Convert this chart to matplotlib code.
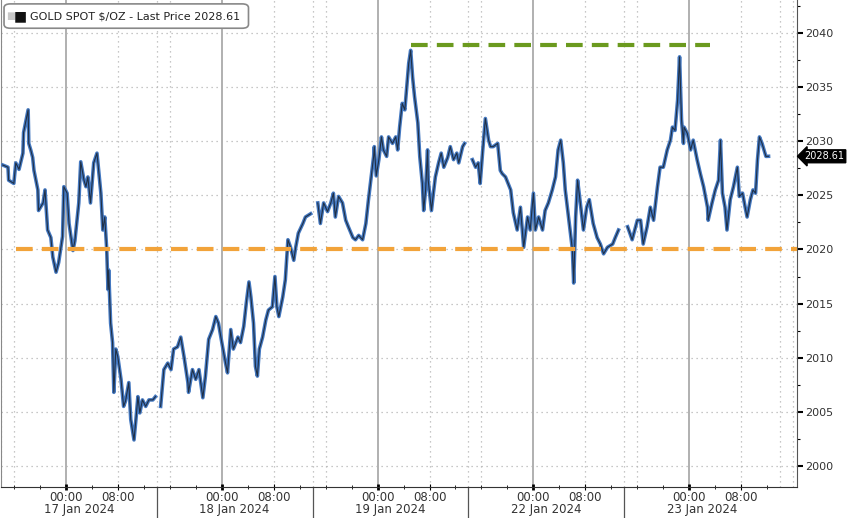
import numpy as np
import matplotlib
matplotlib.use('Agg')
import matplotlib.pyplot as plt
from matplotlib.patches import FancyBboxPatch
from matplotlib.transforms import blended_transform_factory

plt.rcParams['font.family'] = ['DejaVu Sans']

# hours from session start (session starts ~14:00 of previous day, 24h long)
s0_t = [0.3, 1.1, 1.2, 2.0, 2.3, 2.8, 3.4, 3.5, 4.2, 4.3, 4.6, 4.9, 5.1, 5.7, 5.8, 6.5,
        6.8, 7.2, 7.7, 8.0, 8.5, 8.9, 9.5, 9.7, 10.2, 10.5, 11.1, 11.4, 12.0, 12.3, 12.8,
        13.1, 13.4, 13.8, 14.3, 14.8, 15.1, 15.4, 15.7, 16.0, 16.3, 16.5, 16.6, 16.9, 17.2,
        17.4, 17.7, 18.0, 18.5, 18.9, 19.2, 19.7, 20.0, 20.5, 20.8, 21.1, 21.4, 21.8, 22.3,
        22.8, 23.4, 23.8]
s0_p = [2027.8, 2027.6, 2026.4, 2026.1, 2028.0, 2027.4, 2028.9, 2030.8, 2032.9, 2029.8,
        2029.2, 2028.5, 2027.3, 2025.5, 2023.6, 2024.3, 2025.5, 2021.8, 2021.1, 2019.3,
        2017.9, 2018.8, 2021.2, 2025.8, 2025.2, 2022.4, 2019.9, 2020.8, 2024.3, 2028.1,
        2026.4, 2025.8, 2026.7, 2024.3, 2028.0, 2028.9, 2027.1, 2025.2, 2021.8, 2023.0,
        2020.0, 2016.3, 2018.1, 2013.2, 2011.4, 2006.8, 2010.8, 2010.1, 2008.0, 2005.5,
        2006.0, 2007.7, 2004.3, 2002.4, 2004.3, 2006.4, 2004.9, 2006.1, 2005.5, 2006.1,
        2006.1, 2006.4]

s1_t = [0.6, 1.1, 1.7, 2.2, 2.6, 3.2, 3.7, 4.2, 4.8, 4.9, 5.5, 6.0, 6.5, 7.1, 7.5, 8.0,
        8.6, 9.1, 9.5, 10.2, 10.6, 10.9, 11.4, 11.8, 12.5, 12.9, 13.4, 13.8, 14.2, 14.5,
        14.9, 15.2, 15.5, 15.8, 16.3, 16.8, 17.2, 17.8, 18.2, 18.5, 18.8, 19.4, 19.8, 20.2,
        20.6, 21.1, 21.4, 21.8, 22.5, 22.9, 23.7]
s1_p = [2005.5, 2008.9, 2009.5, 2008.9, 2010.8, 2011.0, 2011.9, 2010.1, 2007.7, 2006.8,
        2008.9, 2008.0, 2008.9, 2006.3, 2008.3, 2011.7, 2012.6, 2013.8, 2013.2, 2010.8,
        2009.5, 2008.6, 2012.6, 2010.8, 2011.9, 2011.4, 2012.9, 2015.1, 2017.0, 2015.6,
        2013.2, 2009.2, 2008.3, 2010.8, 2011.9, 2013.5, 2014.4, 2014.7, 2017.5, 2014.7,
        2013.8, 2015.6, 2017.2, 2020.9, 2020.2, 2019.0, 2020.2, 2021.5, 2022.4, 2023.0,
        2023.3]

s2_t = [0.8, 1.2, 1.7, 2.3, 2.8, 3.2, 3.5, 4.0, 4.6, 5.1, 5.5, 6.2, 6.6, 7.1, 7.7, 8.2,
        8.6, 9.1, 9.4, 9.5, 9.8, 10.2, 10.6, 10.9, 11.4, 11.7, 12.3, 12.8, 13.1, 13.4, 13.8,
        14.2, 14.5, 14.8, 15.1, 15.4, 15.7, 16.2, 16.5, 16.9, 17.1, 17.4, 17.7, 17.8, 18.3,
        18.6, 18.9, 19.4, 19.8, 20.2, 20.8, 21.2, 21.7, 22.2, 22.5, 23.1, 23.4]
s2_p = [2024.3, 2022.4, 2024.3, 2023.5, 2024.3, 2025.2, 2023.0, 2024.9, 2024.3, 2022.7,
        2022.1, 2021.1, 2020.9, 2021.3, 2020.9, 2022.4, 2024.6, 2027.1, 2028.6, 2029.5,
        2026.8, 2028.3, 2030.4, 2029.2, 2028.6, 2030.4, 2029.8, 2030.4, 2029.2, 2031.3,
        2033.5, 2032.9, 2035.0, 2037.2, 2038.4, 2035.9, 2034.1, 2031.7, 2028.6, 2026.1,
        2023.6, 2025.5, 2029.2, 2026.4, 2023.6, 2025.2, 2026.7, 2028.0, 2028.9, 2027.6,
        2028.5, 2029.5, 2028.3, 2028.9, 2028.0, 2029.5, 2029.8]

s3_t = [0.6, 1.1, 1.5, 1.8, 2.2, 2.6, 3.1, 3.4, 3.8, 4.5, 4.9, 5.2, 5.7, 6.5, 6.9, 7.5,
        8.0, 8.5, 9.1, 9.5, 10.0, 10.3, 10.8, 11.4, 11.8, 12.3, 12.9, 13.4, 13.8, 14.2,
        14.6, 14.9, 15.4, 16.0, 16.2, 16.5, 16.8, 17.1, 17.7, 18.2, 18.6, 19.2, 19.8, 20.3,
        20.8, 21.4, 22.2, 22.6, 23.1]
s3_p = [2028.3, 2027.6, 2028.0, 2026.1, 2029.2, 2032.1, 2030.1, 2029.5, 2029.5, 2029.8,
        2027.3, 2027.0, 2026.7, 2025.5, 2023.4, 2021.8, 2023.9, 2020.2, 2023.0, 2021.8,
        2025.2, 2021.8, 2023.0, 2021.8, 2023.6, 2024.3, 2025.5, 2026.7, 2029.2, 2030.1,
        2028.0, 2025.5, 2023.0, 2020.0, 2016.9, 2023.0, 2026.4, 2024.9, 2021.8, 2023.9,
        2024.6, 2022.4, 2021.1, 2020.5, 2019.6, 2020.2, 2020.5, 2021.1, 2021.8]

s4_t = [0.5, 1.2, 2.0, 2.5, 2.9, 3.5, 4.0, 4.5, 5.1, 5.5, 6.0, 6.6, 7.1, 7.4, 7.8, 8.2,
        8.5, 8.8, 9.1, 9.2, 9.7, 10.2, 10.6, 11.2, 11.7, 12.2, 12.8, 12.9, 13.5, 14.0, 14.5,
        14.8, 15.1, 15.5, 15.8, 16.3, 16.8, 17.4, 17.7, 18.2, 18.6, 18.9, 19.4, 19.8, 20.2,
        20.5, 20.8, 21.2, 21.5, 21.8, 22.2]
s4_p = [2022.1, 2020.9, 2022.7, 2022.7, 2020.5, 2022.1, 2023.9, 2022.7, 2025.8, 2027.6,
        2027.6, 2029.2, 2030.1, 2031.3, 2031.0, 2033.8, 2037.8, 2032.0, 2029.8, 2031.3,
        2030.7, 2029.2, 2030.1, 2028.3, 2027.0, 2025.8, 2023.9, 2022.7, 2024.3, 2025.5,
        2026.4, 2030.1, 2025.2, 2023.9, 2021.8, 2024.6, 2025.8, 2027.6, 2024.9, 2025.2,
        2023.9, 2023.0, 2024.6, 2025.5, 2025.2, 2028.3, 2030.4, 2029.8, 2029.2, 2028.6,
        2028.61]

sessions = [(s0_t, s0_p), (s1_t, s1_p), (s2_t, s2_p), (s3_t, s3_p), (s4_t, s4_p)]
day_labels = ['17 Jan 2024', '18 Jan 2024', '19 Jan 2024', '22 Jan 2024', '23 Jan 2024']
last_price = 2028.61

# support / resistance levels (value, start hour, end hour)
support = (2020.0, 2.3, 122.6)
resistance = (2038.9, 63.1, 109.2)

SESSION = 24.0
MIDNIGHT = 10.0   # 00:00 sits 10h into each session

fig = plt.figure(figsize=(8.48, 5.18), dpi=100)
ax = fig.add_axes([0.001, 0.06, 0.939, 0.94])

# stitch sessions, NaN between so the line breaks
xs, ys = [], []
for i, (t, p) in enumerate(sessions):
    xs += [i * SESSION + h for h in t] + [np.nan]
    ys += list(p) + [np.nan]
xs = np.array(xs)
ys = np.array(ys)

# grid
for lvl in range(2000, 2045, 5):
    ax.axhline(lvl, color='#b5b5b5', lw=0.9, ls=(0, (1, 3)), zorder=0)
for i in range(6):
    base = i * SESSION
    ax.axvline(base, color='#b5b5b5', lw=0.9, ls=(0, (1, 3)), zorder=0)
    ax.axvline(base + 2, color='#b5b5b5', lw=0.9, ls=(0, (1, 3)), zorder=0)
    ax.axvline(base + 18, color='#b5b5b5', lw=0.9, ls=(0, (1, 3)), zorder=0)
    ax.axvline(base + MIDNIGHT, color='#b0b0b0', lw=1.4, zorder=0)

# price: blue body with a dark core
ax.plot(xs, ys, color='#4478c0', lw=2.6, zorder=3)
ax.plot(xs, ys, color='#101010', lw=0.8, alpha=0.7, zorder=4)

# levels
ax.plot([support[1], support[2]], [support[0]] * 2, color='#f2a33a', lw=3,
        dashes=(4, 2.2), zorder=5)
ax.plot([resistance[1], resistance[2]], [resistance[0]] * 2, color='#6b9a1e', lw=3,
        dashes=(4, 2.2), zorder=5)

ax.set_xlim(0, 122.6)
ax.set_ylim(1998.06, 2043.05)

# y axis on right
ax.yaxis.tick_right()
ax.set_yticks(range(2000, 2045, 5))
ax.set_yticks(np.arange(2002.5, 2043, 5), minor=True)
ax.tick_params(axis='y', which='major', direction='out', length=4, width=1.5,
               labelsize=8, labelcolor='#333333', pad=2)
ax.tick_params(axis='y', which='minor', direction='out', length=2.5, width=0.8)

# x axis ticks
major = []
labels = []
for i in range(5):
    major += [i * SESSION + MIDNIGHT, i * SESSION + 18]
    labels += ['00:00', '08:00']
minor = [i * SESSION + h for i in range(5) for h in (2, 6, 14, 22)]
ax.set_xticks(major)
ax.set_xticklabels(labels)
ax.set_xticks(minor, minor=True)
ax.tick_params(axis='x', which='major', direction='inout', length=4, width=0.8,
               labelsize=8.5, labelcolor='#333333', pad=1)
ax.tick_params(axis='x', which='minor', direction='inout', length=3, width=0.6)
for k, tk in enumerate(ax.xaxis.get_major_ticks()):
    if k % 2 == 0:
        tk.tick1line.set_markeredgewidth(2)

ax.spines['top'].set_visible(False)
ax.spines['left'].set_color('#888888')
ax.spines['right'].set_color('#555555')
ax.spines['bottom'].set_color('#333333')

# date labels + session separators below axis
trans = blended_transform_factory(ax.transData, ax.transAxes)
for i, lab in enumerate(day_labels):
    ax.text(i * SESSION + 12, -0.046, lab, transform=trans, ha='center', va='center',
            fontsize=8.5, color='#333333')
for i in range(1, 5):
    ax.plot([i * SESSION] * 2, [0, -0.07], transform=trans, color='#555555', lw=0.9,
            clip_on=False)

# legend box
ax.add_patch(FancyBboxPatch((0.004, 0.942), 0.307, 0.05,
                            boxstyle='round,pad=0,rounding_size=0.008',
                            transform=ax.transAxes, facecolor='white',
                            edgecolor='#888888', lw=1.2, zorder=9))
ax.text(0.036, 0.967, 'GOLD SPOT $/OZ - Last Price 2028.61', transform=ax.transAxes,
        ha='left', va='center', fontsize=8, color='#222222', zorder=10)
ax.text(0.013, 0.967, '\u25a0', transform=ax.transAxes, ha='center', va='center',
        fontsize=7, color='#c8c8c8', zorder=11)
ax.text(0.025, 0.967, '\u25a0', transform=ax.transAxes, ha='center', va='center',
        fontsize=10, color='#111111', zorder=11)

# last price tag
tag_trans = blended_transform_factory(ax.transAxes, ax.transData)
ax.text(1.009, last_price, '2028.61', transform=tag_trans, ha='left', va='center',
        fontsize=7, color='white', zorder=12,
        bbox=dict(boxstyle='larrow,pad=0.15', facecolor='black', edgecolor='black'))

fig.savefig('out.png', dpi=100)
